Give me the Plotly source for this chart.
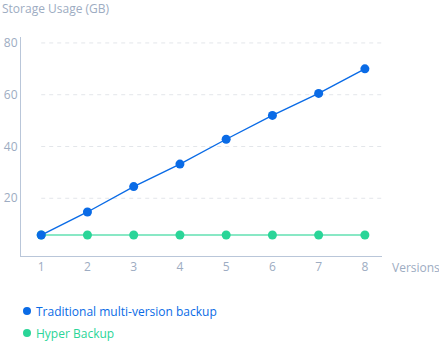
import plotly.graph_objects as go

versions = [1, 2, 3, 4, 5, 6, 7, 8]
traditional = [5.8, 14.7, 24.5, 33.2, 42.8, 52.0, 60.5, 70.0]
hyper = [5.8, 5.8, 5.8, 5.8, 5.8, 5.8, 5.8, 5.8]
series_names = ["Traditional multi-version backup", "Hyper Backup"]
y_ticks = [20, 40, 60, 80]

BLUE = "#0a6be6"
GREEN = "#2ad598"
GREEN_LINE = "#62e0b2"
AXIS = "#b9c6d9"
TICK = "#9dacc2"
FONT = "Open Sans"

fig = go.Figure()
fig.add_trace(go.Scatter(x=versions, y=hyper, mode="lines+markers",
                         line=dict(color=GREEN_LINE, width=1.6),
                         marker=dict(color=GREEN, size=9),
                         name=series_names[1], showlegend=False, cliponaxis=False))
fig.add_trace(go.Scatter(x=versions, y=traditional, mode="lines+markers",
                         line=dict(color=BLUE, width=1.4),
                         marker=dict(color=BLUE, size=9),
                         name=series_names[0], showlegend=False, cliponaxis=False))

x_max = 8.37
shapes = []
for t in y_ticks:
    shapes.append(dict(type="line", xref="x", yref="y", x0=1, x1=x_max, y0=t, y1=t,
                       line=dict(color="#e3e6ea", width=1, dash="4px,4px"), layer="below"))

annotations = [
    dict(text="Storage Usage (GB)", xref="paper", yref="paper", x=0, y=1,
         xanchor="left", yanchor="middle", xshift=-21, yshift=29, showarrow=False,
         font=dict(family=FONT, size=12, color=TICK)),
    dict(text="Versions", xref="paper", yref="paper", x=1, y=0,
         xanchor="left", yanchor="middle", xshift=8, yshift=-11, showarrow=False,
         font=dict(family=FONT, size=12, color=TICK)),
]
legend_colors = [BLUE, GREEN]
for i, (name, col) in enumerate(zip(series_names, legend_colors)):
    ypix = -55 - 22 * i
    shapes.append(dict(type="circle", xref="paper", yref="paper", xsizemode="pixel",
                       ysizemode="pixel", xanchor=0, yanchor=0, x0=2, x1=10,
                       y0=ypix - 4, y1=ypix + 4, fillcolor=col, line=dict(width=0)))
    annotations.append(dict(text=name, xref="paper", yref="paper", x=0, y=0,
                            xanchor="left", yanchor="middle", xshift=13, yshift=ypix,
                            showarrow=False, font=dict(family=FONT, size=12, color=col)))

fig.update_layout(
    template="none",
    width=439, height=355,
    margin=dict(l=21, r=57, t=37, b=99, pad=0, autoexpand=False),
    paper_bgcolor="white", plot_bgcolor="white",
    shapes=shapes, annotations=annotations,
    xaxis=dict(range=[0.563, x_max], tickvals=versions, showgrid=False, zeroline=False,
               showline=True, linecolor=AXIS, linewidth=1, ticks="", automargin=False,
               tickfont=dict(family=FONT, size=12, color=TICK), fixedrange=True),
    yaxis=dict(range=[-2.3, 82.3], tickvals=y_ticks, showgrid=False, zeroline=False,
               showline=True, linecolor=AXIS, linewidth=1, ticks="", automargin=False,
               ticklabelstandoff=0,
               tickfont=dict(family=FONT, size=12, color=TICK), fixedrange=True),
    showlegend=False,
)
fig.write_html("out.html", config={"displayModeBar": False},
               post_script="document.body.style.margin='0';document.body.style.overflow='hidden';")
